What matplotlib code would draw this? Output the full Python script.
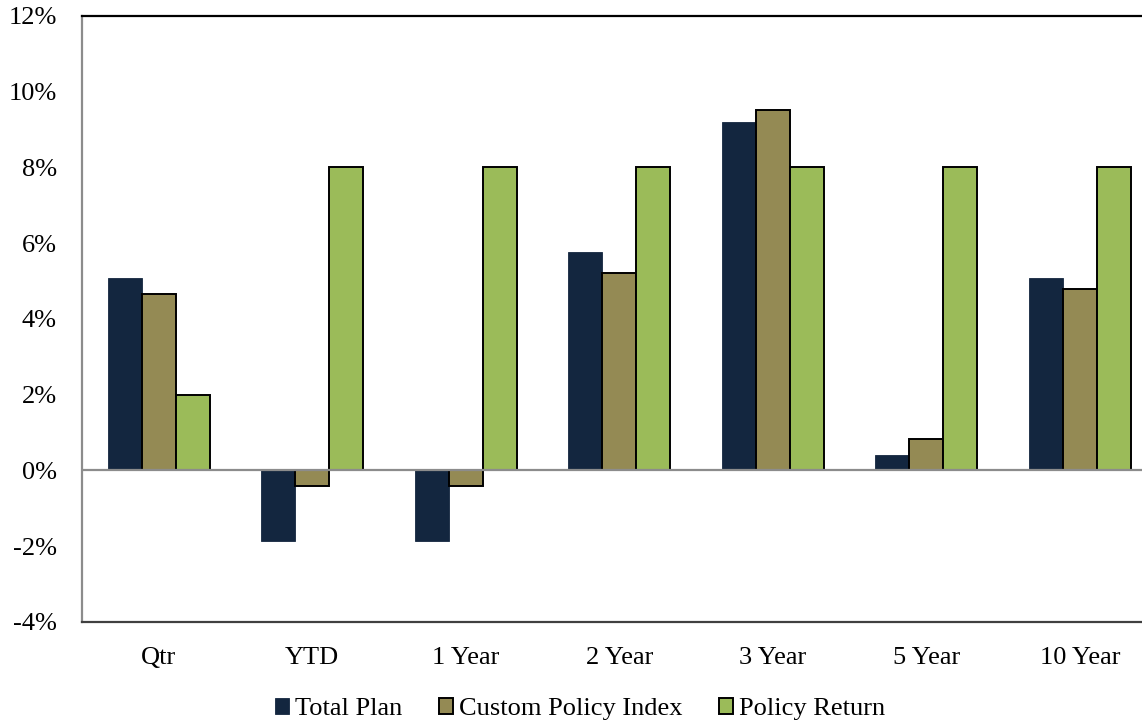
import matplotlib
matplotlib.use("Agg")
import matplotlib.pyplot as plt
import numpy as np
from matplotlib.ticker import FuncFormatter

plt.rcParams['font.family'] = ['Liberation Serif', 'DejaVu Serif']

categories = ["Qtr", "YTD", "1 Year", "2 Year", "3 Year", "5 Year", "10 Year"]
total_plan = [5.07, -1.85, -1.85, 5.78, 9.21, 0.40, 5.09]
custom_policy_index = [4.67, -0.42, -0.42, 5.22, 9.53, 0.82, 4.78]
policy_return = [2.0, 8.0, 8.0, 8.0, 8.0, 8.0, 8.0]
series_names = ["Total Plan", "Custom Policy Index", "Policy Return"]
y_ticks = [-4, -2, 0, 2, 4, 6, 8, 10, 12]

fig = plt.figure(figsize=(11.42, 7.21), dpi=100)
ax = fig.add_axes([82 / 1142, 1 - 622 / 721, 1074.5 / 1142, (622 - 16) / 721])

x = np.arange(len(categories))
w = 0.222
ax.bar(x - w, total_plan, w, color="#13263F", edgecolor="#13263F", linewidth=0.6,
       label=series_names[0], zorder=3)
ax.bar(x, custom_policy_index, w, color="#948A54", edgecolor="black", linewidth=1.4,
       label=series_names[1], zorder=3)
ax.bar(x + w, policy_return, w, color="#9BBB59", edgecolor="black", linewidth=1.4,
       label=series_names[2], zorder=3)

ax.axhline(0, color="#8c8c8c", linewidth=1.6, zorder=4)

ax.set_xlim(-0.5, len(categories) - 0.5)
ax.set_ylim(-4, 12)
ax.set_yticks(y_ticks)
ax.yaxis.set_major_formatter(FuncFormatter(lambda v, p: f"{v:.0f}%"))
ax.set_xticks(x)
ax.set_xticklabels(categories)
ax.tick_params(axis="both", length=0, labelsize=19, colors="black")
ax.tick_params(axis="y", pad=18)
ax.tick_params(axis="x", pad=18)

ax.spines["top"].set_color("black")
ax.spines["top"].set_linewidth(1.6)
ax.spines["left"].set_color("#8c8c8c")
ax.spines["left"].set_linewidth(1.6)
ax.spines["bottom"].set_color("#404040")
ax.spines["bottom"].set_linewidth(1.6)
ax.spines["right"].set_visible(False)

leg = fig.legend(loc="lower center", bbox_to_anchor=(0.508, -0.032), ncol=3, frameon=False,
                 fontsize=19, handlelength=0.53, handleheight=0.55, handletextpad=0.23,
                 columnspacing=1.4)

fig.savefig("out.png", dpi=100)
